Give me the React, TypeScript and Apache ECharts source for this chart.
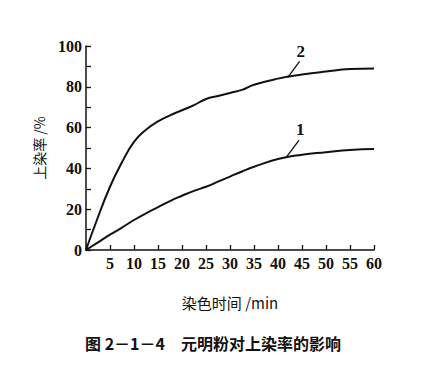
import React, { useEffect, useRef } from "react";
import * as echarts from "echarts";

const times = [0, 2, 5, 7.5, 10, 12.5, 15, 17.5, 20, 22.5, 25, 27.5, 30, 32.5, 35, 40, 45, 50, 55, 60];
const rate2 = [0, 13, 31, 43, 53, 59, 63, 66, 68.5, 71, 74, 75.5, 77, 78.5, 81, 84, 86, 87.5, 88.7, 89];
const rate1 = [0, 3, 7.5, 11, 14.7, 18, 21, 24, 26.6, 29, 31, 33.5, 36, 38.5, 40.8, 44.6, 46.7, 47.9, 49, 49.5];
const curveNames = ["1", "2"];
const xName = "染色时间 /min";
const yName = "上染率 /%";
const caption = "图 2－1－4　元明粉对上染率的影响";

const CJK = "'Noto Sans CJK SC', sans-serif";
const SERIF = "'Liberation Serif', 'DejaVu Serif', serif";

export default function App() {
  const ref = useRef<HTMLDivElement>(null);
  useEffect(() => {
    document.body.style.margin = "0";
    const chart = echarts.init(ref.current!, null, { renderer: "svg" });
    const mk = (vals: number[]) => times.map((t, i) => [t, vals[i]]);
    const leader = (name: string, from: number[], to: number[]) => ({
      silent: true,
      symbol: ["none", "none"],
      lineStyle: { color: "#111", width: 1.3, type: "solid" },
      label: {
        show: true,
        position: "end",
        formatter: name,
        distance: 2,
        color: "#111",
        fontFamily: SERIF,
        fontWeight: "bold",
        fontSize: 17,
      },
      data: [[{ coord: from }, { coord: to }]],
    });
    chart.setOption({
      animation: false,
      backgroundColor: "#fff",
      title: {
        text: caption,
        left: "center",
        top: 330,
        textStyle: { fontFamily: CJK, fontWeight: "bold", fontSize: 16, color: "#111" },
      },
      grid: { left: 86, right: 52, top: 46, bottom: 130 },
      xAxis: {
        type: "value",
        min: 0,
        max: 60,
        interval: 5,
        name: xName,
        nameLocation: "middle",
        nameGap: 45,
        nameTextStyle: { fontFamily: CJK, fontSize: 15, color: "#111" },
        axisLine: { lineStyle: { color: "#111", width: 1.5 } },
        axisTick: { inside: true, length: 5, lineStyle: { color: "#111", width: 1.3 } },
        axisLabel: {
          margin: 5,
          fontFamily: SERIF,
          fontWeight: "bold",
          fontSize: 16,
          color: "#111",
          formatter: (v: number) => (v === 0 ? "" : String(v)),
        },
        splitLine: { show: false },
      },
      yAxis: {
        type: "value",
        min: 0,
        max: 100,
        interval: 10,
        name: yName,
        nameLocation: "middle",
        nameGap: 40,
        nameRotate: 90,
        nameTextStyle: { fontFamily: CJK, fontSize: 14, color: "#111" },
        axisLine: { show: true, lineStyle: { color: "#111", width: 1.5 } },
        axisTick: { inside: true, length: 5, lineStyle: { color: "#111", width: 1.3 } },
        axisLabel: {
          margin: 4,
          fontFamily: SERIF,
          fontWeight: "bold",
          fontSize: 16,
          color: "#111",
          formatter: (v: number) => (v % 20 === 0 ? String(v) : ""),
        },
        splitLine: { show: false },
      },
      series: [
        {
          type: "line",
          name: curveNames[0],
          data: mk(rate1),
          smooth: true,
          showSymbol: false,
          lineStyle: { color: "#111", width: 2 },
          markLine: leader(curveNames[0], [41.7, 45.4], [44.4, 53.9]),
        },
        {
          type: "line",
          name: curveNames[1],
          data: mk(rate2),
          smooth: true,
          showSymbol: false,
          lineStyle: { color: "#111", width: 2 },
          markLine: leader(curveNames[1], [42, 84.5], [44.5, 92.5]),
        },
      ],
    });
    return () => chart.dispose();
  }, []);
  return <div ref={ref} style={{ width: 426, height: 380 }} />;
}
